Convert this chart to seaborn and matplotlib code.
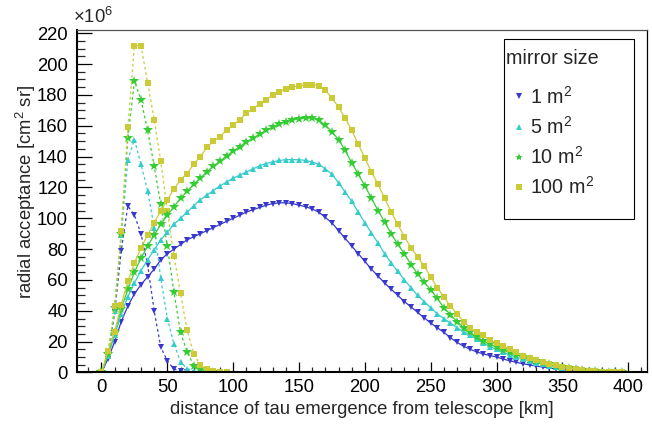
import numpy as np
import pandas as pd
import matplotlib
matplotlib.use("Agg")
import matplotlib.pyplot as plt
from matplotlib.lines import Line2D
from matplotlib.patches import Rectangle
from matplotlib.ticker import MultipleLocator
import seaborn as sns

# ---------------- data (acceptance in units of 10^6 cm^2 sr) ----------------
legend_title = "mirror size"
mirrors = ["1 m$^{\\mathrm{2}}$", "5 m$^{\\mathrm{2}}$", "10 m$^{\\mathrm{2}}$", "100 m$^{\\mathrm{2}}$"]

dist_long = list(range(0, 400, 5))  # 0 ... 395 km

acc_1m2 = [0, 9, 20, 33, 43, 51, 57, 62, 67, 73,
           77, 80, 83, 86, 88, 90, 92, 94, 96, 98,
           100, 102, 104, 105.5, 107, 108.5, 109.5, 110, 110, 109.5,
           108.5, 107.5, 106, 104, 100.5, 97, 92, 87, 82, 77,
           72, 67, 62.5, 58, 54, 50, 46, 42.5, 39, 35.5,
           32, 29, 26, 22.5, 19.5, 17, 15, 13.3, 12, 11,
           10, 8.7, 7.6, 6.6, 5.7, 4.9, 4.2, 3.5, 2.9, 2.4,
           1.9, 1.5, 1.2, 0.9, 0.7, 0.5, 0.35, 0.2, 0.12, 0.05]

acc_5m2 = [0, 11, 24, 38, 49, 58, 66, 73, 79.5, 86,
           91, 96, 100, 104, 108, 112, 115, 118, 121, 123.5,
           126, 128, 130, 132, 134, 135.5, 136.5, 137.5, 138, 138,
           138, 137.5, 136.5, 135, 132, 128.5, 123, 117, 111, 104,
           97, 90.5, 84, 77, 71, 65.5, 60, 55, 50, 46,
           42, 38, 35, 32, 29, 26.5, 24, 21.5, 19, 16.7,
           15, 13, 11.5, 10, 8.7, 7.5, 6.4, 5.4, 4.5, 3.7,
           3, 2.4, 1.9, 1.4, 1, 0.7, 0.5, 0.3, 0.15, 0.05]

acc_10m2 = [0, 12, 26, 41, 54, 65, 74, 82, 89, 96,
            102, 107.5, 113, 117.5, 122, 126, 130, 134, 137, 140.5,
            143.5, 146.5, 149.5, 152, 154.5, 157, 159, 161, 162.5, 164,
            164.5, 165, 165, 163.5, 160.5, 156, 151, 144, 136, 128.5,
            121, 113, 105, 97.5, 90, 83, 77, 70, 64, 58.5,
            53.5, 48, 42, 37.5, 33, 29, 26, 23, 20.5, 18.5,
            16.7, 14.5, 13, 11.5, 10, 8.7, 7.5, 6.3, 5.3, 4.3,
            3.5, 2.8, 2.2, 1.6, 1.2, 0.8, 0.5, 0.3, 0.15, 0.05]

acc_100m2 = [0, 14, 26, 44, 59, 71, 81, 89, 97, 105,
             112, 119, 125, 129, 135, 140, 146, 150, 153, 157,
             160.5, 164, 168, 171, 174, 177, 180, 182, 184, 185,
             186, 186.5, 186.5, 186, 183, 178, 172, 165, 157, 148,
             139, 130, 122, 113, 104, 96, 88, 81, 75, 69,
             62, 55, 49, 43, 38, 33, 29, 26, 24, 21,
             19, 17, 15, 13, 11, 9.5, 8, 6.8, 5.7, 4.7,
             3.8, 3, 2.3, 1.7, 1.2, 0.8, 0.5, 0.3, 0.15, 0.05]

dist_short_1m2 = list(range(0, 70, 5))
short_1m2 = [0, 10, 39, 79, 108, 102, 90, 70, 40, 16.5, 7.5, 2.2, 1, 0.3]

dist_short_5m2 = list(range(0, 80, 5))
short_5m2 = [0, 11, 40, 89, 138, 151, 135, 118, 94, 61, 35, 18.5, 7, 2.5, 1, 0.3]

dist_short_10m2 = list(range(0, 90, 5))
short_10m2 = [0, 12, 42, 90, 152, 189, 177, 157, 134, 109, 82, 52, 26, 13.5, 4.5, 2, 0.8, 0.3]

dist_short_100m2 = list(range(0, 100, 5))
short_100m2 = [0, 13, 43, 92, 159, 212, 212, 188, 164, 137, 105, 75.5, 51.5, 27.5, 12, 5, 2, 1, 0.5, 0.3]

colors = ["#3838cf", "#36cccc", "#36cc36", "#cbcb38"]
markers = ["v", "^", "*", "s"]

long_df = pd.concat([
    pd.DataFrame({"distance": dist_long, "acceptance": vals, "mirror": m})
    for m, vals in zip(mirrors, [acc_1m2, acc_5m2, acc_10m2, acc_100m2])
], ignore_index=True)

short_df = pd.concat([
    pd.DataFrame({"distance": d, "acceptance": vals, "mirror": m})
    for m, d, vals in zip(mirrors,
                          [dist_short_1m2, dist_short_5m2, dist_short_10m2, dist_short_100m2],
                          [short_1m2, short_5m2, short_10m2, short_100m2])
], ignore_index=True)

# ---------------- style ----------------
sns.set_theme(style="ticks")
plt.rcParams["font.family"] = ["Liberation Sans", "DejaVu Sans"]
plt.rcParams["mathtext.fontset"] = "custom"
plt.rcParams["mathtext.rm"] = "Liberation Sans"
plt.rcParams["mathtext.it"] = "Liberation Sans:italic"
plt.rcParams["mathtext.bf"] = "Liberation Sans:bold"

FS = 13.3
LFS = 14.2
W, H = 652, 424

fig = plt.figure(figsize=(6.52, 4.24), dpi=100)
ax = fig.add_axes([0.1181, 0.1215, 0.8742, 0.8078])

palette = dict(zip(mirrors, colors))
mk = dict(zip(mirrors, markers))

sns.lineplot(data=short_df, x="distance", y="acceptance", hue="mirror", style="mirror",
             hue_order=mirrors, style_order=mirrors, palette=palette,
             markers=mk, dashes={m: (2.2, 2.2) for m in mirrors},
             linewidth=0.9, markersize=5, markeredgewidth=0,
             legend=False, ax=ax, sort=False, estimator=None)
sns.lineplot(data=long_df, x="distance", y="acceptance", hue="mirror", style="mirror",
             hue_order=mirrors, style_order=mirrors, palette=palette,
             markers=mk, dashes={m: "" for m in mirrors},
             linewidth=0.9, markersize=5, markeredgewidth=0,
             legend=False, ax=ax, sort=False, estimator=None)

for ln in ax.lines:
    if ln.get_marker() == "*":
        ln.set_markersize(7.5)

ax.set_xlim(-18.6, 414.2)
ax.set_ylim(0, 222.1)

ax.xaxis.set_major_locator(MultipleLocator(50))
ax.xaxis.set_minor_locator(MultipleLocator(10))
ax.yaxis.set_major_locator(MultipleLocator(20))
ax.yaxis.set_minor_locator(MultipleLocator(5))

ax.tick_params(axis="x", which="major", direction="in", length=7.5, width=0.9,
               labelsize=FS, pad=4.5, colors="black")
ax.tick_params(axis="x", which="minor", direction="in", length=3.7, width=0.9)
ax.tick_params(axis="y", which="major", direction="in", length=11, width=0.9,
               labelsize=FS, pad=6.5, colors="black")
ax.tick_params(axis="y", which="minor", direction="in", length=5.5, width=0.9)

for side in ["left", "bottom"]:
    ax.spines[side].set_linewidth(1.5)
    ax.spines[side].set_color("black")
ax.spines["top"].set_linewidth(0.9)
ax.spines["top"].set_color("#555555")
ax.spines["right"].set_linewidth(0.9)
ax.spines["right"].set_color("black")

ax.set_xlabel("distance of tau emergence from telescope [km]", fontsize=FS)
ax.set_ylabel("radial acceptance [cm$^{\\mathrm{2}}$ sr]", fontsize=FS)
ax.xaxis.label.set_va("center")
ax.xaxis.set_label_coords(0.5, -0.109)
ax.yaxis.label.set_va("center")
ax.yaxis.set_label_coords(-0.09, 0.527)

fig.text(73 / W, 1 - 23 / H, "×10$^{\\mathrm{6}}$", fontsize=FS, ha="left", va="baseline")

# legend box (drawn separately so its padding matches the reference)
box = Rectangle((504 / W, (H - 219) / H), 130 / W, 180 / H, transform=fig.transFigure,
                facecolor="white", edgecolor="black", linewidth=0.8, zorder=4, clip_on=False)
ax.add_patch(box)
fig.text(506 / W, 1 - 59 / H, legend_title, fontsize=LFS, ha="left", va="center", zorder=6)

handles = [Line2D([], [], linestyle="none", marker=m, color=c,
                  markersize=(6 if m == "*" else 4.5), markeredgewidth=0)
           for m, c in zip(markers, colors)]
leg = ax.legend(handles, mirrors, loc="upper left",
                bbox_to_anchor=(508 / W, 1 - 85.5 / H), bbox_transform=fig.transFigure,
                frameon=False, fontsize=LFS,
                handlelength=1.1, handletextpad=0.0, labelspacing=0.42,
                borderpad=0, borderaxespad=0)
leg.set_zorder(5)

fig.savefig("out.png", dpi=100)
